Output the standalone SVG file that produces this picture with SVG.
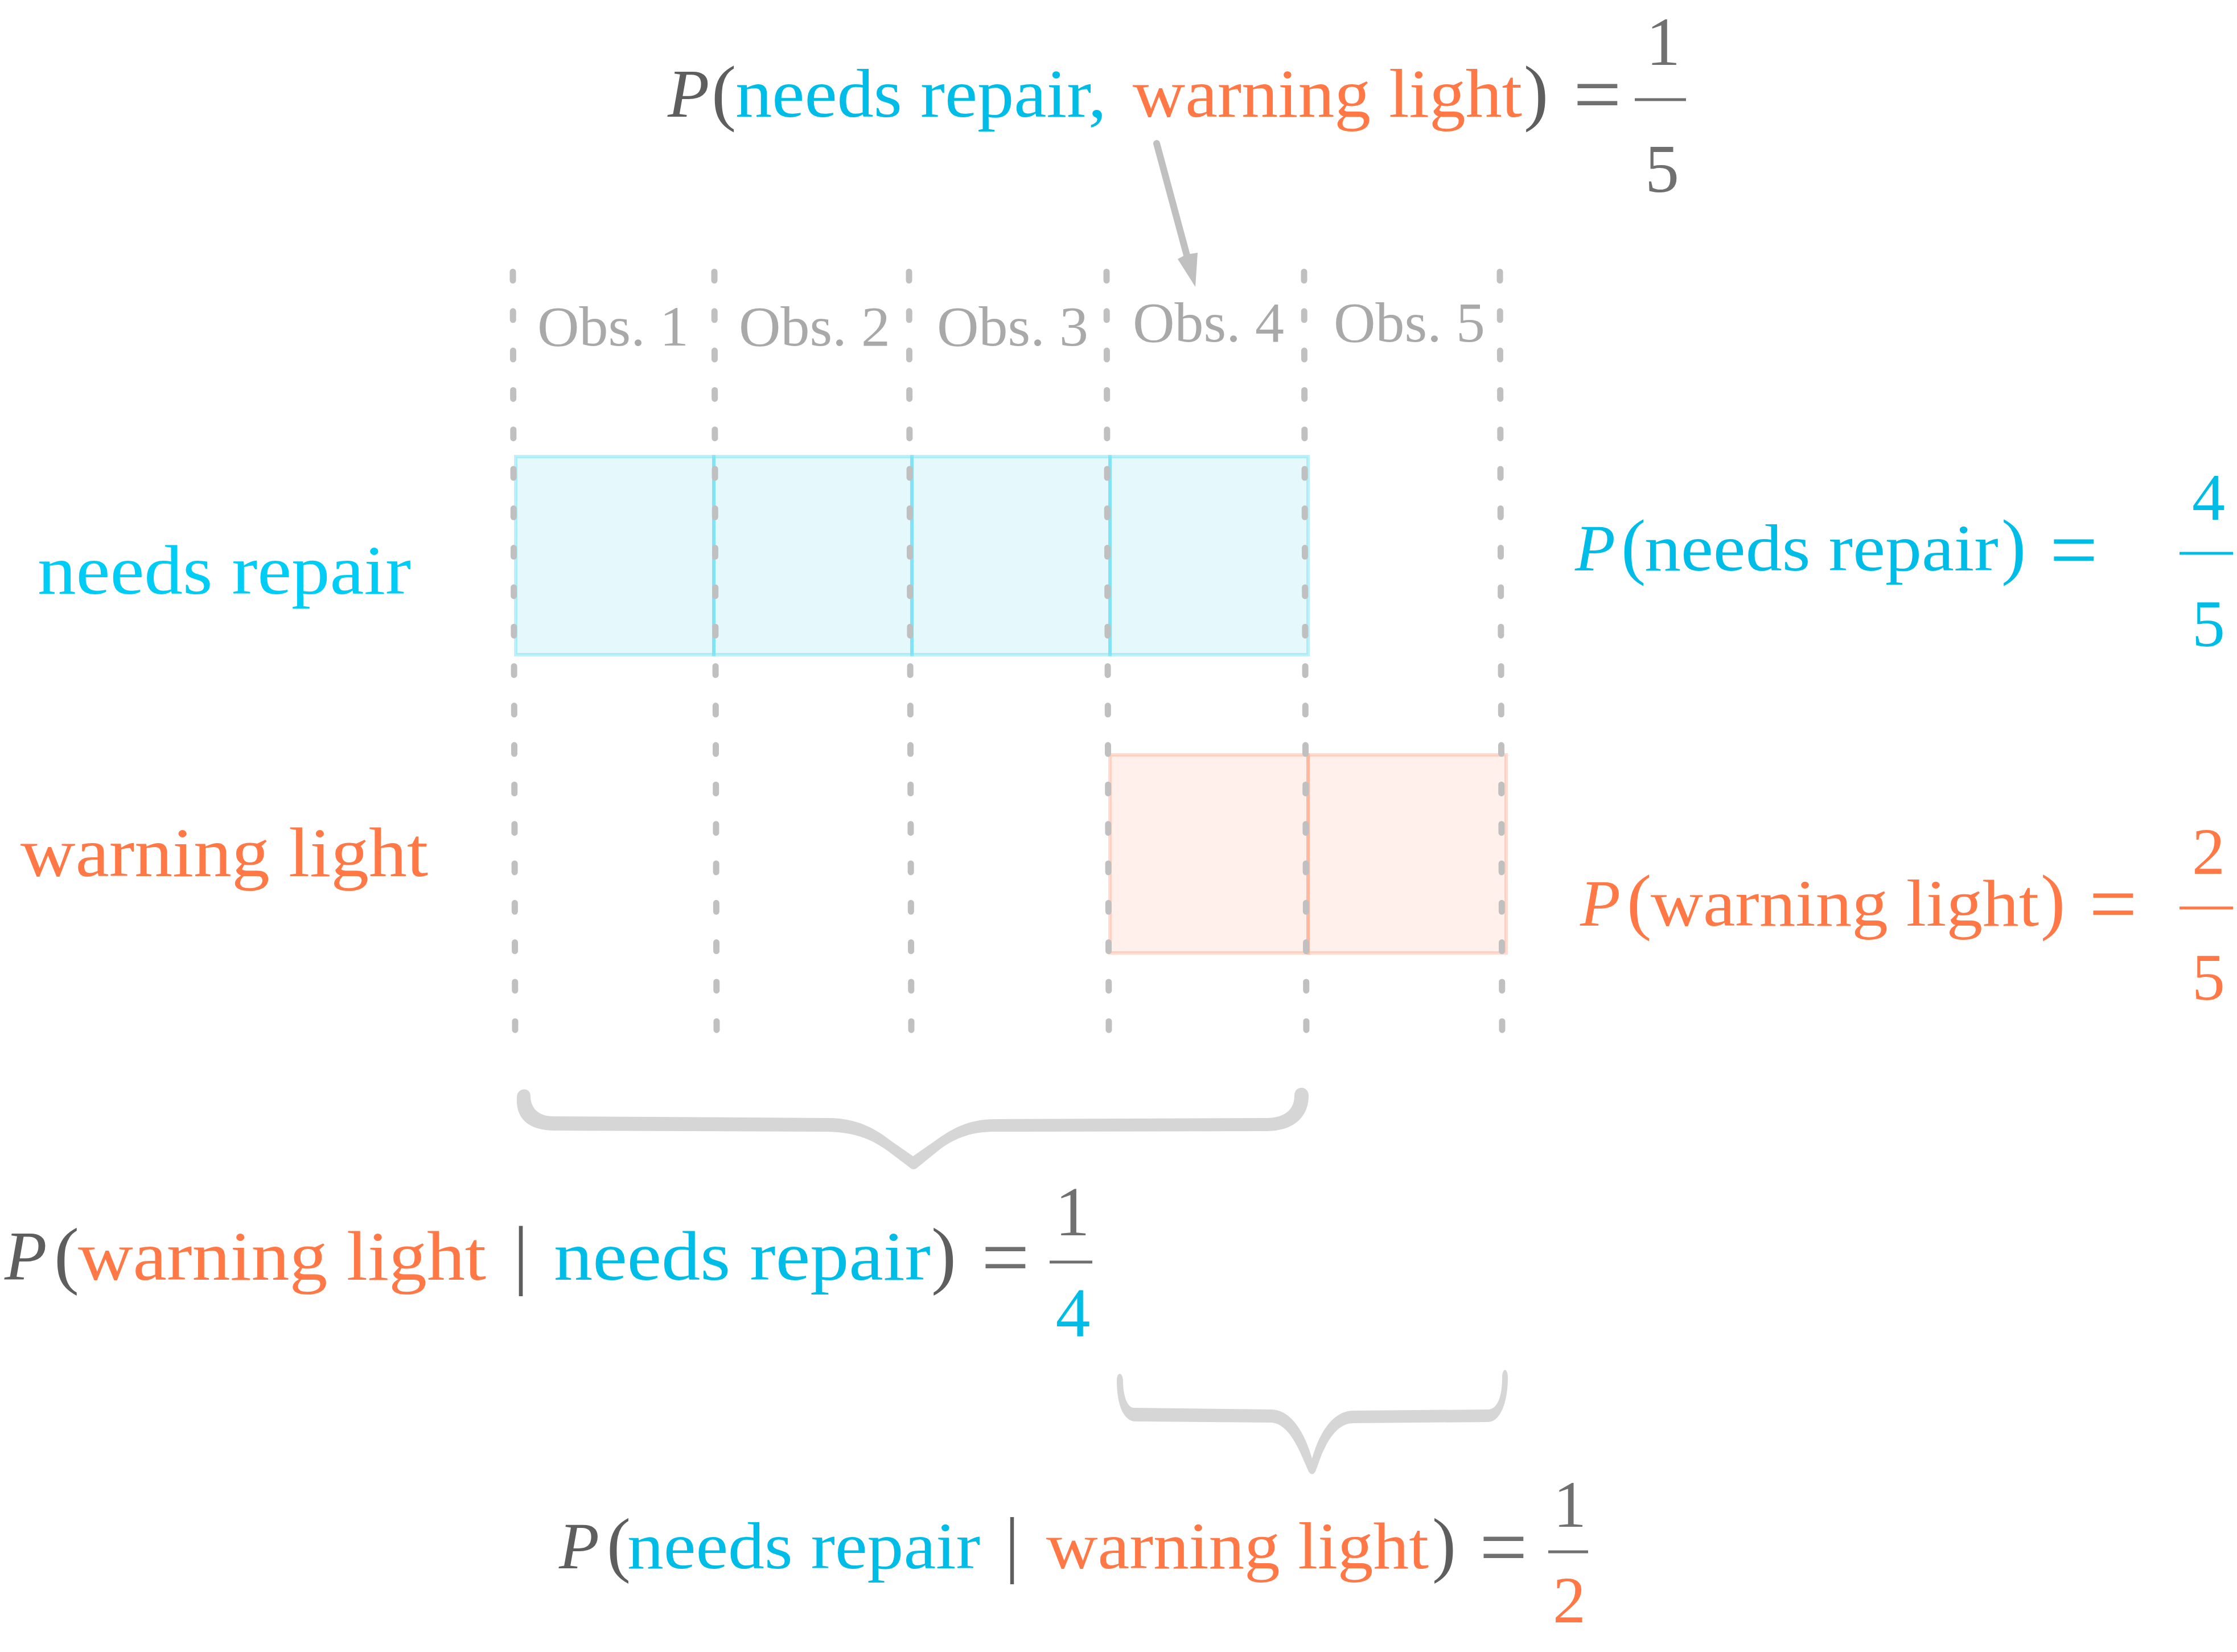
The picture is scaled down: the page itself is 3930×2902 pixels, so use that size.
<svg xmlns="http://www.w3.org/2000/svg" width="3930" height="2902" viewBox="0 0 3930 2902">
<style>
text{font-family:"Liberation Serif","Times New Roman",serif;}
.it{font-style:italic;}
.dk{fill:#5e5e5e;}
.md{fill:#707070;}
.cy{fill:#00bde8;}
.cyl{fill:#00cdf5;}
.or{fill:#ff7846;}
.obs{fill:#a9a9a9;font-size:100px;}
.f120{font-size:120px;}
.f116{font-size:116px;}
.f122{font-size:122px;}
.par{font-size:130px;}
.eq{font-size:150px;}
.dash{stroke:#c0c0c0;stroke-width:11;stroke-linecap:round;stroke-dasharray:15 54.3;fill:none;}
.cell-c{fill:#00c8f0;fill-opacity:0.1;stroke:#00c8f0;stroke-opacity:0.25;stroke-width:6;}
.cell-o{fill:#ff7043;fill-opacity:0.1;stroke:#ff7043;stroke-opacity:0.25;stroke-width:6;}
.brace{fill:#d6d6d6;}
.fbar{stroke-width:5;}
</style>
<rect x="0" y="0" width="3930" height="2902" fill="#ffffff"/>

<g id="needs-repair-cells">
<rect class="cell-c" x="906" y="802" width="348" height="348"/>
<rect class="cell-c" x="1254" y="802" width="348" height="348"/>
<rect class="cell-c" x="1602" y="802" width="348" height="348"/>
<rect class="cell-c" x="1950" y="802" width="348" height="348"/>
</g>
<g id="warning-light-cells">
<rect class="cell-o" x="1950" y="1326" width="348" height="348"/>
<rect class="cell-o" x="2298" y="1326" width="348" height="348"/>
</g>

<g id="observation-columns">
<line class="dash" x1="901" y1="477.5" x2="905" y2="1812"/>
<line class="dash" x1="1255" y1="477.5" x2="1259" y2="1812"/>
<line class="dash" x1="1597" y1="477.5" x2="1601" y2="1812"/>
<line class="dash" x1="1944" y1="477.5" x2="1948" y2="1812"/>
<line class="dash" x1="2291" y1="477.5" x2="2295" y2="1812"/>
<line class="dash" x1="2635" y1="477.5" x2="2639" y2="1812"/>
</g>

<g id="obs-labels">
<text class="obs" x="944" y="607" textLength="266" lengthAdjust="spacingAndGlyphs">Obs. 1</text>
<text class="obs" x="1298" y="607" textLength="266" lengthAdjust="spacingAndGlyphs">Obs. 2</text>
<text class="obs" x="1646" y="607" textLength="266" lengthAdjust="spacingAndGlyphs">Obs. 3</text>
<text class="obs" x="1990" y="600" textLength="266" lengthAdjust="spacingAndGlyphs">Obs. 4</text>
<text class="obs" x="2343" y="600" textLength="266" lengthAdjust="spacingAndGlyphs">Obs. 5</text>
</g>

<g id="label-needs-repair">
<text class="f122 cyl" x="66" y="1043" textLength="656" lengthAdjust="spacingAndGlyphs">needs repair</text>
</g>
<g id="label-warning-light">
<text class="f122 or" x="36" y="1539" textLength="716" lengthAdjust="spacingAndGlyphs">warning light</text>
</g>

<g id="formula-joint">
<text class="f120 it dk" x="1173" y="205">P</text>
<text class="par dk" x="1250" y="205">(</text>
<text class="f120 cy" x="1292" y="205" textLength="652" lengthAdjust="spacingAndGlyphs">needs repair,</text>
<text class="f120 or" x="1990" y="205" textLength="684" lengthAdjust="spacingAndGlyphs">warning light</text>
<text class="par dk" x="2677" y="205">)</text>
<text class="eq md" x="2764" y="216">=</text>
<text class="f120 md" x="2922" y="114" text-anchor="middle">1</text>
<line class="fbar" x1="2872" y1="175" x2="2962" y2="175" stroke="#707070"/>
<text class="f120 md" x="2920" y="337" text-anchor="middle">5</text>
</g>

<g id="formula-p-needs-repair">
<text class="f116 it cy" x="2767" y="1002">P</text>
<text class="par cy" x="2848" y="1002">(</text>
<text class="f116 cy" x="2889" y="1002" textLength="622" lengthAdjust="spacingAndGlyphs">needs repair</text>
<text class="par cy" x="3516" y="1002">)</text>
<text class="eq cy" x="3601" y="1016">=</text>
<text class="f116 cy" x="3880" y="913" text-anchor="middle">4</text>
<line class="fbar" x1="3829" y1="972" x2="3923" y2="972" stroke="#00bde8"/>
<text class="f116 cy" x="3880" y="1135" text-anchor="middle">5</text>
</g>

<g id="formula-p-warning-light">
<text class="f116 it or" x="2776" y="1626">P</text>
<text class="par or" x="2858" y="1626">(</text>
<text class="f116 or" x="2900" y="1626" textLength="682" lengthAdjust="spacingAndGlyphs">warning light</text>
<text class="par or" x="3585" y="1626">)</text>
<text class="eq or" x="3670" y="1638">=</text>
<text class="f116 or" x="3880" y="1535" text-anchor="middle">2</text>
<line class="fbar" x1="3829" y1="1595" x2="3923" y2="1595" stroke="#ff7846"/>
<text class="f116 or" x="3880" y="1756" text-anchor="middle">5</text>
</g>

<g id="brace-needs-repair">
<path class="brace" d="M 908,1928 C 906,1962 925,1986 975,1986 L 1454,1988 C 1500,1989 1530,2000 1560,2022 L 1597,2050 Q 1605,2058 1613,2050 L 1650,2020 C 1680,1997 1710,1988 1748,1988 L 2225,1987 C 2275,1987 2299,1960 2299,1925 C 2299,1906 2274,1906 2274,1925 C 2274,1948 2258,1964 2225,1964 L 1748,1966 C 1700,1966 1670,1984 1640,2006 L 1604,2031 L 1568,2006 C 1540,1985 1510,1964 1454,1964 L 972,1961 C 945,1961 932,1945 932,1926 C 932,1908 908,1910 908,1928 Z"/>
</g>

<g id="brace-warning-light">
<path class="brace" d="M 1962,2425 C 1962,2470 1975,2497 1995,2497 L 2233,2499 C 2258,2500 2275,2530 2288,2560 L 2299,2585 Q 2305,2594 2311,2585 L 2322,2555 C 2335,2525 2352,2500 2378,2500 L 2614,2498 C 2635,2498 2649,2465 2649,2420 C 2649,2402 2639,2402 2639,2420 C 2639,2455 2630,2476 2614,2476 L 2378,2478 C 2345,2478 2320,2510 2305,2562 C 2290,2510 2265,2476 2233,2476 L 1992,2473 C 1980,2473 1973,2450 1973,2427 C 1973,2409 1962,2409 1962,2425 Z"/>
</g>

<g id="formula-wl-given-nr">
<text class="f122 it dk" x="8" y="2248">P</text>
<text class="par dk" x="95" y="2248" style="font-size:132px">(</text>
<text class="f122 or" x="137" y="2248" textLength="717" lengthAdjust="spacingAndGlyphs">warning light</text>
<text class="dk" x="915" y="2248" text-anchor="middle" style="font-size:135px">|</text>
<text class="f122 cy" x="973" y="2248" textLength="662" lengthAdjust="spacingAndGlyphs">needs repair</text>
<text class="par dk" x="1636" y="2248" style="font-size:132px">)</text>
<text class="eq md" x="1724" y="2259">=</text>
<text class="f122 md" x="1884" y="2170" text-anchor="middle">1</text>
<line class="fbar" x1="1844" y1="2217" x2="1919" y2="2217" stroke="#707070"/>
<text class="f122 cy" x="1885" y="2348" text-anchor="middle">4</text>
</g>

<g id="formula-nr-given-wl">
<text class="f116 it dk" x="982" y="2755">P</text>
<text class="par dk" x="1066" y="2755" style="font-size:126px">(</text>
<text class="f116 cy" x="1102" y="2755" textLength="620" lengthAdjust="spacingAndGlyphs">needs repair</text>
<text class="dk" x="1778" y="2755" text-anchor="middle" style="font-size:130px">|</text>
<text class="f116 or" x="1838" y="2755" textLength="672" lengthAdjust="spacingAndGlyphs">warning light</text>
<text class="par dk" x="2516" y="2755" style="font-size:126px">)</text>
<text class="eq md" x="2599" y="2768">=</text>
<text class="f116 md" x="2758" y="2682" text-anchor="middle">1</text>
<line class="fbar" x1="2720" y1="2726" x2="2790" y2="2726" stroke="#707070"/>
<text class="f116 or" x="2757" y="2850" text-anchor="middle">2</text>
</g>

<g id="connectors">
<path d="M 2032,252 L 2086,452" stroke="#c0c0c0" stroke-width="12" stroke-linecap="round" fill="none"/>
<polygon points="2100,504 2069,455 2084,447 2104,444" fill="#c0c0c0"/>
</g>
</svg>
